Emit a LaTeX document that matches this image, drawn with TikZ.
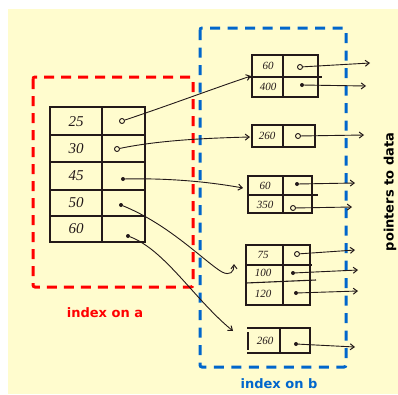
\documentclass[tikz,border=0pt]{standalone}
\usepackage{fontspec}
\newfontfamily\labelfont{DejaVu Sans}
\newfontfamily\handfont{Liberation Serif}
\usetikzlibrary{arrows.meta}
\definecolor{bgyellow}{RGB}{255,252,206}
\definecolor{boxred}{RGB}{255,0,0}
\definecolor{boxblue}{RGB}{0,102,204}
\definecolor{ink}{RGB}{35,25,25}
\tikzset{
  hand/.style={draw=ink, line width=1.1pt},
  cellnum/.style={font=\handfont\itshape\fontsize{15}{15}\selectfont, text=ink, inner sep=0pt},
  smallnum/.style={font=\handfont\itshape\fontsize{11}{11}\selectfont, text=ink, inner sep=0pt},
  ptr/.style={draw=ink, line width=0.9pt, -{Straight Barb[length=4pt,width=6pt,line width=1pt]}},
  dotmark/.style={circle, fill=ink, inner sep=0pt, minimum size=4pt},
  ringmark/.style={circle, draw=ink, line width=0.9pt, inner sep=0pt, minimum size=5pt},
  redbox/.style={draw=boxred, line width=3pt, dash pattern=on 10pt off 7pt, rounded corners=2pt},
  bluebox/.style={draw=boxblue, line width=3pt, dash pattern=on 10pt off 7.5pt, rounded corners=2pt},
  caption/.style={font=\labelfont\bfseries\fontsize{13}{13}\selectfont, inner sep=0pt}
}
\begin{document}
\begin{tikzpicture}[x=1pt,y=-1pt]
\useasboundingbox (0,0) rectangle (398,394);
\fill[bgyellow] (8,9) rectangle (398,394);

% dashed index boxes
\draw[redbox] (33,77) rectangle (193,287);
\draw[bluebox] (200,28) rectangle (346,367);

% captions
\node[caption, text=boxred] (capa) at (105,313) {index on a};
\node[caption, text=boxblue] (capb) at (279,384) {index on b};
\node[caption, text=black, rotate=90] (capp) at (390,192) {pointers to data};

% left table (index on a)
\draw[hand] (50,107) rectangle (145,242);
\draw[hand] (102,107) -- (102,242);
\foreach \yy in {135,162,190,216} \draw[hand] (50,\yy) -- (146,\yy);
\node[cellnum] (a25) at (76,122) {25};
\node[cellnum] (a30) at (76,149) {30};
\node[cellnum] (a45) at (76,176) {45};
\node[cellnum] (a50) at (76,203) {50};
\node[cellnum] (a60) at (76,229) {60};
\node[ringmark] (p25) at (122,121) {};
\node[ringmark] (p30) at (117,149) {};
\node[dotmark] (p45) at (123,179) {};
\node[dotmark] (p50) at (121,205) {};
\node[dotmark] (p60) at (128,236) {};

% right tables (index on b)
% T1
\draw[hand] (252,55) rectangle (318,97);
\draw[hand] (283,55) -- (283,97);
\draw[hand] (248,77) -- (322,77);
\node[smallnum] (b60a) at (268,66) {60};
\node[smallnum] (b400) at (268,87) {400};
\node[ringmark] (q60a) at (300,67) {};
\node[dotmark] (q400) at (302,85) {};
\coordinate (r60a) at (370,63);
\coordinate (r400) at (366,86);
% T2
\draw[hand] (252,125) rectangle (315,147);
\draw[hand] (283,125) -- (283,147);
\node[smallnum] (b260a) at (267,136) {260};
\node[ringmark] (q260a) at (298,136) {};
\coordinate (r260a) at (364,135);
% T3
\draw[hand] (248,176) rectangle (312,213);
\draw[hand] (283,176) -- (283,213);
\draw[hand] (248,195) -- (318,195);
\node[smallnum] (b60b) at (265,186) {60};
\node[smallnum] (b350) at (265,205) {350};
\node[dotmark] (q60b) at (297,184) {};
\node[ringmark] (q350) at (293,208) {};
\coordinate (r60b) at (355,183);
\coordinate (r350) at (352,207);
% T4
\draw[hand] (246,245) rectangle (310,305);
\draw[hand] (283,245) -- (283,305);
\draw[hand] (246,265) -- (312,265);
\draw[hand] (246,283) -- (316,280);
\node[smallnum] (b75) at (263,255) {75};
\node[smallnum] (b100) at (263,273) {100};
\node[smallnum] (b120) at (263,294) {120};
\node[ringmark] (q75) at (297,254) {};
\node[dotmark] (q100) at (293,273) {};
\node[dotmark] (q120) at (296,293) {};
\coordinate (r75) at (355,250);
\coordinate (r100) at (358,270);
\coordinate (r120) at (358,291);
% T5
\draw[hand] (247,328) -- (310,328) -- (310,353) -- (247,353);
\draw[hand] (248,332) -- (248,350);
\draw[hand] (280,328) -- (280,353);
\node[smallnum] (b260b) at (265,341) {260};
\node[dotmark] (q260b) at (296,344) {};
\coordinate (r260b) at (355,347);

% pointers from index on a to index on b
\coordinate (t25) at (251,76);
\coordinate (t30) at (250,137);
\coordinate (t45) at (243,188);
\coordinate (t50) at (234,264);
\coordinate (t60) at (233,331);
\draw[ptr] (p25) .. controls (170,105) and (215,88) .. (t25);
\draw[ptr] (p30) .. controls (160,140) and (210,138) .. (t30);
\draw[ptr] (p45) .. controls (170,178) and (210,182) .. (t45);
\draw[ptr] (p50) .. controls (170,225) and (205,262) .. (222,272) .. controls (230,276) and (234,272) .. (t50);
\draw[ptr] (p60) .. controls (165,250) and (195,300) .. (t60);

% pointers to data
\draw[ptr] (q60a) -- (r60a);
\draw[ptr] (q400) -- (r400);
\draw[ptr] (q260a) -- (r260a);
\draw[ptr] (q60b) -- (r60b);
\draw[ptr] (q350) -- (r350);
\draw[ptr] (q75) -- (r75);
\draw[ptr] (q100) -- (r100);
\draw[ptr] (q120) -- (r120);
\draw[ptr] (q260b) -- (r260b);
\end{tikzpicture}
\end{document}
